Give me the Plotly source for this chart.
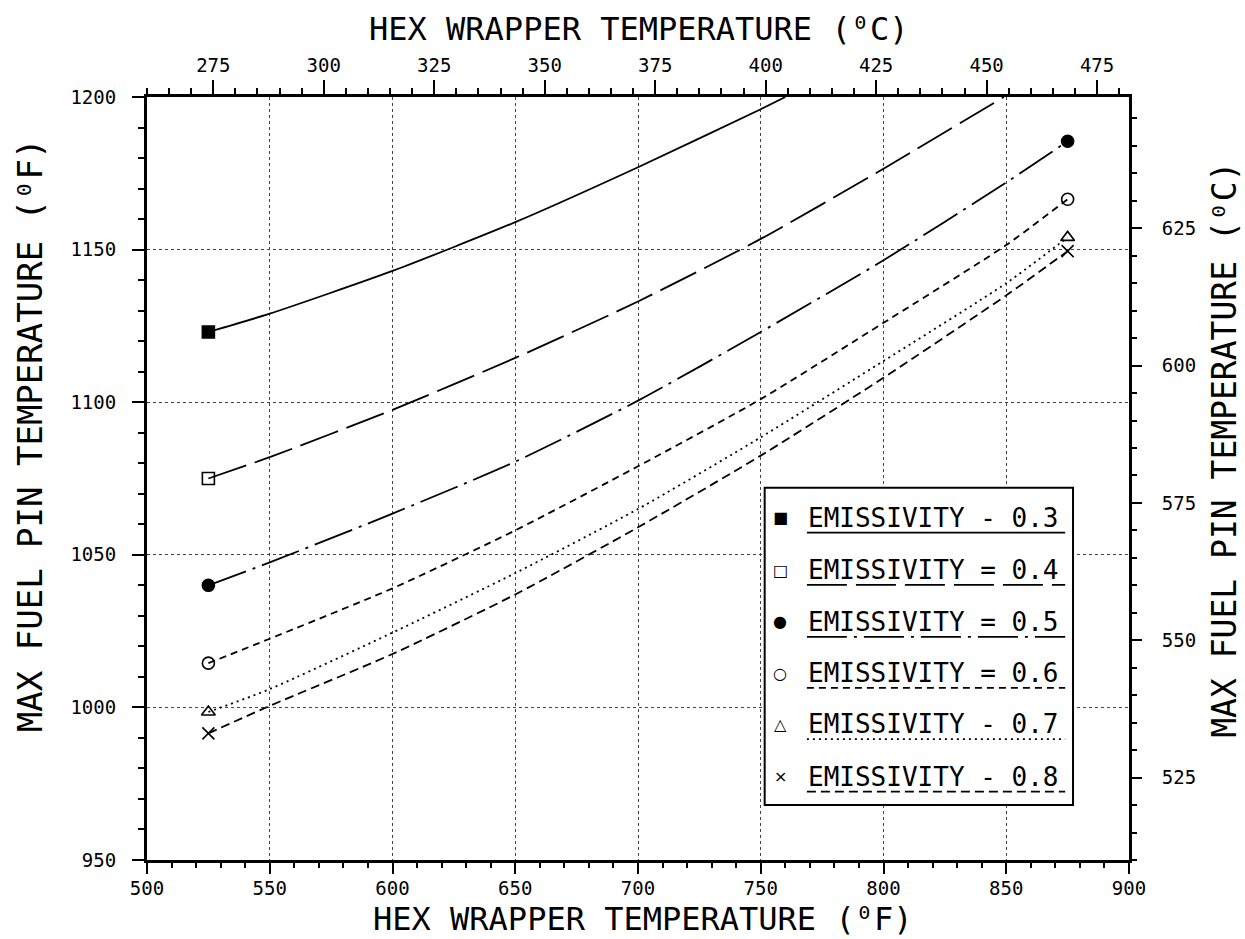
import plotly.graph_objects as go

# ---------------- data (deg F) ----------------
emissivity = ["0.3", "0.4", "0.5", "0.6", "0.7", "0.8"]

x_03 = [525, 550, 600, 650, 700, 750, 760]
y_03 = [1123, 1129, 1143, 1159, 1177, 1196, 1200]

x_04 = [525, 550, 600, 650, 700, 750, 800, 849]
y_04 = [1075, 1082, 1097.5, 1114.5, 1133, 1153.5, 1176.5, 1200]

x_05 = [525, 550, 600, 650, 700, 750, 800, 850, 875]
y_05 = [1040, 1047.5, 1063.5, 1080.5, 1100.5, 1123, 1146.5, 1172, 1185.5]

x_06 = [525, 550, 600, 650, 700, 750, 800, 850, 875]
y_06 = [1014.5, 1022.5, 1039, 1058, 1079, 1101, 1126, 1151.5, 1166.5]

x_07 = [525, 550, 600, 650, 700, 750, 800, 850, 875]
y_07 = [998.5, 1006, 1024.5, 1044, 1065, 1088.5, 1113.5, 1139, 1154]

x_08 = [525, 550, 600, 650, 700, 750, 800, 850, 875]
y_08 = [991.5, 1000.5, 1017.5, 1037, 1059, 1082.5, 1108, 1135, 1149.5]

x_ticks_F = [500, 550, 600, 650, 700, 750, 800, 850, 900]
y_ticks_F = [950, 1000, 1050, 1100, 1150, 1200]
x_ticks_C = [275, 300, 325, 350, 375, 400, 425, 450, 475]
y_ticks_C = [525, 550, 575, 600, 625]

X_RANGE_F = [500, 900]
Y_RANGE_F = [950, 1200]


def f2c(v):
    return (v - 32) * 5.0 / 9.0


series = [
    (x_03, y_03, "solid", "square", "EMISSIVITY - 0.3", "■"),
    (x_04, y_04, "40px,9px", "square-open", "EMISSIVITY = 0.4", "□"),
    (x_05, y_05, "40px,7px,3px,7px", "circle", "EMISSIVITY = 0.5", "●"),
    (x_06, y_06, "7px,5px", "circle-open", "EMISSIVITY = 0.6", "○"),
    (x_07, y_07, "2px,4px", "triangle-up-open", "EMISSIVITY - 0.7", "△"),
    (x_08, y_08, "9px,5px", "x-thin-open", "EMISSIVITY - 0.8", "×"),
]

MONO = "DejaVu Sans Mono"
fig = go.Figure()

for xs, ys, dash, sym, name, _ in series:
    fig.add_trace(go.Scatter(
        x=xs, y=ys, mode="lines", name=name, showlegend=False,
        line=dict(color="black", width=1.8, dash=dash, shape="spline", smoothing=0.6),
        hoverinfo="skip"))
    mx = [xs[0]] + ([xs[-1]] if xs[-1] == 875 else [])
    my = [ys[0]] + ([ys[-1]] if xs[-1] == 875 else [])
    fig.add_trace(go.Scatter(
        x=mx, y=my, mode="markers", showlegend=False, hoverinfo="skip",
        marker=dict(symbol=sym, size=12, color="black",
                    line=dict(color="black", width=1.6))))

# invisible trace to activate the Celsius axes
fig.add_trace(go.Scatter(
    x=[f2c(v) for v in x_03], y=[f2c(v) for v in y_03], xaxis="x2", yaxis="y2",
    mode="lines", line=dict(width=0), opacity=0, showlegend=False, hoverinfo="skip"))

tickfont = dict(family=MONO, size=19, color="black")

common = dict(tickcolor="black", tickfont=tickfont, showline=True, linecolor="black",
              linewidth=3, zeroline=False, automargin=False, ticks="outside", tickwidth=2)

fig.update_layout(
    width=1245, height=939,
    margin=dict(l=147, r=116, t=97, b=79),
    paper_bgcolor="white", plot_bgcolor="white",
    showlegend=False,
    xaxis=dict(
        range=X_RANGE_F, tickvals=x_ticks_F, ticklen=11, ticklabelstandoff=-2,
        showgrid=True, gridcolor="#444", griddash="dot", gridwidth=1,
        minor=dict(dtick=10, ticks="outside", ticklen=5, tickwidth=1.5, tickcolor="black", showgrid=False),
        **common),
    yaxis=dict(
        range=Y_RANGE_F, tickvals=y_ticks_F, ticklen=12, ticklabelstandoff=12,
        showgrid=True, gridcolor="#444", griddash="dot", gridwidth=1,
        minor=dict(dtick=10, ticks="outside", ticklen=6, tickwidth=1.5, tickcolor="black", showgrid=False),
        **common),
    xaxis2=dict(
        overlaying="x", side="top", range=[f2c(X_RANGE_F[0]), f2c(X_RANGE_F[1])],
        tickvals=x_ticks_C, ticklen=14, showgrid=False,
        minor=dict(dtick=5, ticks="outside", ticklen=6, tickwidth=1.5, tickcolor="black", showgrid=False),
        **common),
    yaxis2=dict(
        overlaying="y", side="right", range=[f2c(Y_RANGE_F[0]), f2c(Y_RANGE_F[1])],
        tickvals=y_ticks_C, ticklen=10, ticklabelstandoff=16, showgrid=False,
        minor=dict(dtick=5, ticks="outside", ticklen=5, tickwidth=1.5, tickcolor="black", showgrid=False),
        **common),
)

# ---------------- axis titles ----------------
# (text, x paper, y paper, angle, size)
titles = [
    ("HEX WRAPPER TEMPERATURE (⁰F)", 0.505, -0.0774, 0, 32),
    ("HEX WRAPPER TEMPERATURE (⁰C)", 0.501, 1.0885, 0, 32),
    ("MAX FUEL PIN TEMPERATURE (⁰F)", -0.119, 0.557, -90, 34),
    ("MAX FUEL PIN TEMPERATURE (⁰C)", 1.097, 0.538, -90, 33),
]
for txt, tx, ty, ang, sz in titles:
    fig.add_annotation(xref="paper", yref="paper", x=tx, y=ty, text=txt, textangle=ang,
                       showarrow=False, xanchor="center", yanchor="middle",
                       font=dict(family=MONO, size=sz, color="black"))

# ---------------- legend box (paper coords) ----------------
LX0, LX1, LY0, LY1 = 0.629, 0.943, 0.072, 0.488
fig.add_shape(type="rect", xref="paper", yref="paper", x0=LX0, x1=LX1, y0=LY0, y1=LY1,
              fillcolor="white", line=dict(color="black", width=2), layer="above")

row_y = [0.4485, 0.380, 0.312, 0.245, 0.178, 0.109]
for i, (xs, ys, dash, sym, name, glyph) in enumerate(series):
    yy = row_y[i]
    fig.add_annotation(xref="paper", yref="paper", x=0.645, y=yy, text=glyph,
                       showarrow=False, font=dict(family="DejaVu Sans", size=16, color="black"),
                       xanchor="center", yanchor="middle")
    fig.add_annotation(xref="paper", yref="paper", x=0.671, y=yy, text=name,
                       showarrow=False, font=dict(family=MONO, size=26, color="black"),
                       xanchor="left", yanchor="middle")
    fig.add_shape(type="line", xref="paper", yref="paper", x0=0.672, x1=0.935,
                  y0=yy - 0.0195, y1=yy - 0.0195,
                  line=dict(color="black", width=1.8, dash=dash), layer="above")

fig.write_html("out.html", config={"displayModeBar": False},
               post_script="document.body.style.margin='0';document.body.style.overflow='hidden';")
